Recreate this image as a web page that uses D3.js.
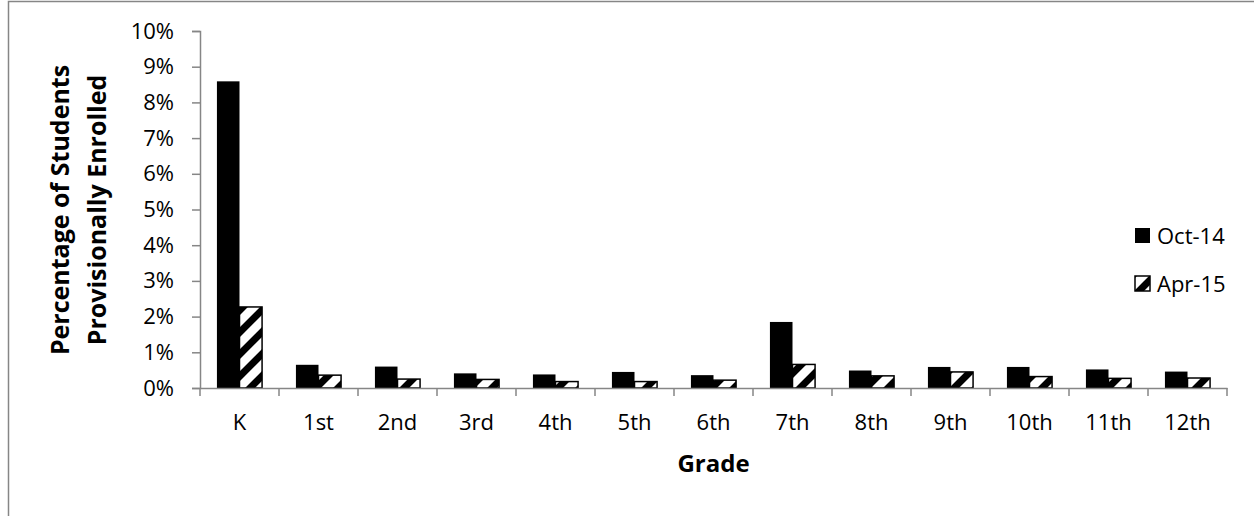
<!DOCTYPE html>
<html>
<head>
<meta charset="utf-8">
<script src="https://cdn.jsdelivr.net/npm/d3@7"></script>
<style>
  html, body { margin: 0; padding: 0; background: #fff; }
  svg { display: block; }
  text { font-family: "Open Sans", "DejaVu Sans", sans-serif; fill: #000; }
</style>
</head>
<body>
<svg id="chart" width="1254" height="516"></svg>
<script>
// ---- data ----
const categories = ["K", "1st", "2nd", "3rd", "4th", "5th", "6th", "7th", "8th", "9th", "10th", "11th", "12th"];
const seriesNames = ["Oct-14", "Apr-15"];
const oct14 = [8.59, 0.65, 0.60, 0.41, 0.38, 0.45, 0.36, 1.85, 0.49, 0.59, 0.59, 0.52, 0.46];
const apr15 = [2.27, 0.36, 0.25, 0.24, 0.18, 0.18, 0.22, 0.66, 0.34, 0.45, 0.32, 0.27, 0.28];
const yTicks = [0, 1, 2, 3, 4, 5, 6, 7, 8, 9, 10];
const yTitleLines = ["Percentage of Students", "Provisionally Enrolled"];
const xTitle = "Grade";

// ---- layout ----
const svg = d3.select("#chart");
const plot = { left: 200, right: 1227, top: 31, bottom: 388 };
const axisColor = "#868686";

// chart border (extends past the canvas at right/bottom as in reference)
svg.append("rect")
  .attr("x", 8.5).attr("y", 1.5)
  .attr("width", 1300).attr("height", 600)
  .attr("fill", "none").attr("stroke", axisColor).attr("stroke-width", 1.5);

// hatch pattern
const defs = svg.append("defs");
const pat = defs.append("pattern")
  .attr("id", "hatch").attr("patternUnits", "userSpaceOnUse")
  .attr("width", 22).attr("height", 22);
pat.append("rect").attr("width", 22).attr("height", 22).attr("fill", "#fff");
pat.append("path")
  .attr("d", "M-5.5,5.5 L5.5,-5.5 M0,22 L22,0 M16.5,27.5 L27.5,16.5")
  .attr("stroke", "#000").attr("stroke-width", 7);

const x = d3.scaleBand().domain(categories).range([plot.left, plot.right]).padding(0);
const y = d3.scaleLinear().domain([0, 10]).range([plot.bottom, plot.top]);
const bw = x.bandwidth();
const barW = bw / 3.5;
const xs = d3.scaleBand().domain(seriesNames).range([0, 2 * barW]).padding(0);

const data = categories.map((c, i) => ({ cat: c, vals: [oct14[i], apr15[i]] }));

// bars
const g = svg.append("g");
data.forEach(d => {
  seriesNames.forEach((s, j) => {
    const v = d.vals[j];
    const x0 = x(d.cat) + (bw - 2 * barW) / 2 + xs(s);
    const r = g.append("rect")
      .attr("x", x0).attr("y", y(v))
      .attr("width", xs.bandwidth()).attr("height", y(0) - y(v));
    if (j === 0) {
      r.attr("fill", "#000");
    } else {
      r.attr("fill", "url(#hatch)").attr("stroke", "#000").attr("stroke-width", 1.5);
    }
  });
});

// y axis
const yAxis = d3.axisLeft(y).tickValues(yTicks).tickFormat(d => d + "%").tickSize(8).tickPadding(18);
const ya = svg.append("g").attr("transform", `translate(${plot.left},0)`).call(yAxis);
ya.select(".domain").attr("stroke", axisColor).attr("stroke-width", 1.5);
ya.selectAll(".tick line").attr("stroke", axisColor).attr("stroke-width", 1.5);
ya.selectAll(".tick text").attr("font-size", 22).attr("font-family", "Open Sans").attr("fill", "#000");

// x axis
const xAxis = d3.axisBottom(x).tickSize(0).tickPadding(0);
const xa = svg.append("g").attr("transform", `translate(0,${plot.bottom})`).call(xAxis);
xa.select(".domain").attr("stroke", axisColor).attr("stroke-width", 1.5);
xa.selectAll(".tick text").attr("font-size", 22).attr("font-family", "Open Sans").attr("fill", "#000")
  .attr("dy", null).attr("y", 42);
// category boundary ticks
const bounds = categories.map(c => x(c)).concat([x(categories[categories.length - 1]) + bw]);
xa.selectAll(".bound").data(bounds).enter().append("line")
  .attr("class", "bound")
  .attr("x1", d => d).attr("x2", d => d).attr("y1", 0).attr("y2", 8)
  .attr("stroke", axisColor).attr("stroke-width", 1.5);

// y title
const yt = svg.append("text")
  .attr("transform", `translate(0,210) rotate(-90)`)
  .attr("text-anchor", "middle").attr("font-weight", "bold").attr("font-size", 25);
yTitleLines.forEach((t, i) => {
  yt.append("tspan").attr("x", 0).attr("y", i === 0 ? 69 : 106).text(t);
});

// x title
svg.append("text").attr("x", (plot.left + plot.right) / 2).attr("y", 472)
  .attr("text-anchor", "middle").attr("font-weight", "bold").attr("font-size", 24).text(xTitle);

// legend
const leg = svg.append("g");
seriesNames.forEach((s, j) => {
  const top = j === 0 ? 228 : 276;
  const r = leg.append("rect").attr("x", 1135).attr("y", top).attr("width", 15).attr("height", 15);
  if (j === 0) r.attr("fill", "#000");
  else r.attr("fill", "url(#hatch)").attr("stroke", "#000").attr("stroke-width", 1.5);
  leg.append("text").attr("x", 1157).attr("y", top + 15.5).attr("font-size", 22).text(s);
});
</script>
</body>
</html>
